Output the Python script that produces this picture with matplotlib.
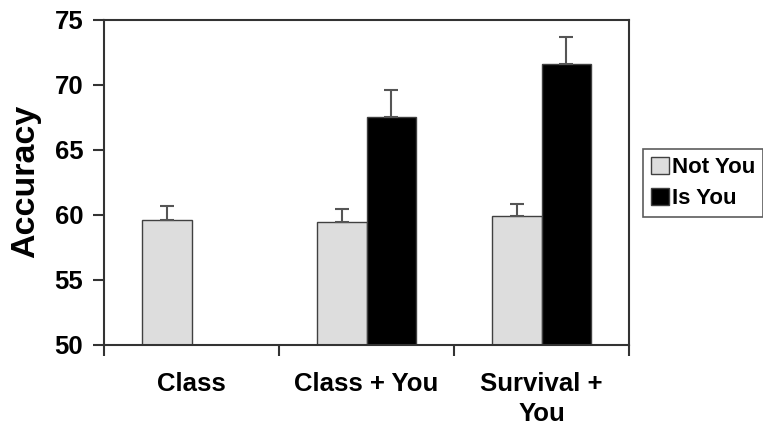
import matplotlib
matplotlib.use("Agg")
import matplotlib.pyplot as plt
import numpy as np

categories = ["Class", "Class + You", "Survival +\nYou"]
series_names = ["Not You", "Is You"]
not_you = [59.6, 59.45, 59.85]
not_you_err = [1.05, 0.95, 0.98]
is_you = [np.nan, 67.5, 71.55]
is_you_err = [np.nan, 2.1, 2.08]
y_ticks = [50, 55, 60, 65, 70, 75]

plt.rcParams["font.family"] = ["Liberation Sans", "DejaVu Sans"]
plt.rcParams["font.weight"] = "bold"

fig = plt.figure(figsize=(7.63, 4.26), dpi=100)
ax = fig.add_axes([104 / 763, 1 - 344.5 / 426, (629 - 104) / 763, (344.5 - 19.5) / 426])

x = np.arange(len(categories))
w = 0.2857
edge = "#404040"
err_kw = dict(ecolor="#555555", elinewidth=1.5, capsize=5, capthick=1.5)

ax.bar(x - w / 2, not_you, width=w, color="#dddddd", edgecolor=edge, linewidth=1.0,
       yerr=[np.zeros(len(not_you)), not_you_err], error_kw=err_kw, label=series_names[0], zorder=2)
ax.bar(x + w / 2, is_you, width=w, color="#000000", edgecolor=edge, linewidth=1.0,
       yerr=[np.zeros(len(is_you)), is_you_err], error_kw=err_kw, label=series_names[1], zorder=2)

ax.set_ylim(50, 75)
ax.set_xlim(-0.5, len(categories) - 0.5)
ax.set_yticks(y_ticks)
ax.set_yticklabels([str(t) for t in y_ticks], fontsize=18.5, fontweight="bold")

# category labels centered, tick marks at category boundaries
ax.set_xticks(x)
ax.set_xticklabels(categories, fontsize=18.5, fontweight="bold", linespacing=1.3)
ax.tick_params(axis="x", which="major", length=0, pad=20)
ax.set_xticks(np.arange(len(categories) + 1) - 0.5, minor=True)
ax.tick_params(axis="x", which="minor", length=8, width=1.5, color="#333333", direction="out")
ax.tick_params(axis="y", length=8, width=1.5, color="#333333", direction="out", pad=7)

for s in ax.spines.values():
    s.set_color("#333333")
    s.set_linewidth(1.5)

fig.text(26 / 763, 1 - 181 / 426, "Accuracy", rotation=90, fontsize=24.5, fontweight="bold",
         ha="center", va="center")

leg = fig.legend(loc="upper left", bbox_to_anchor=(643 / 763, 1 - 149 / 426),
                 prop=dict(size=16, weight="bold"), frameon=True, fancybox=False,
                 handlelength=0.8, handleheight=0.8, handletextpad=0.15,
                 borderpad=0.35, labelspacing=0.45, borderaxespad=0)
leg.get_frame().set_edgecolor("#333333")
leg.get_frame().set_linewidth(1.2)

fig.savefig("out.png", dpi=100)
